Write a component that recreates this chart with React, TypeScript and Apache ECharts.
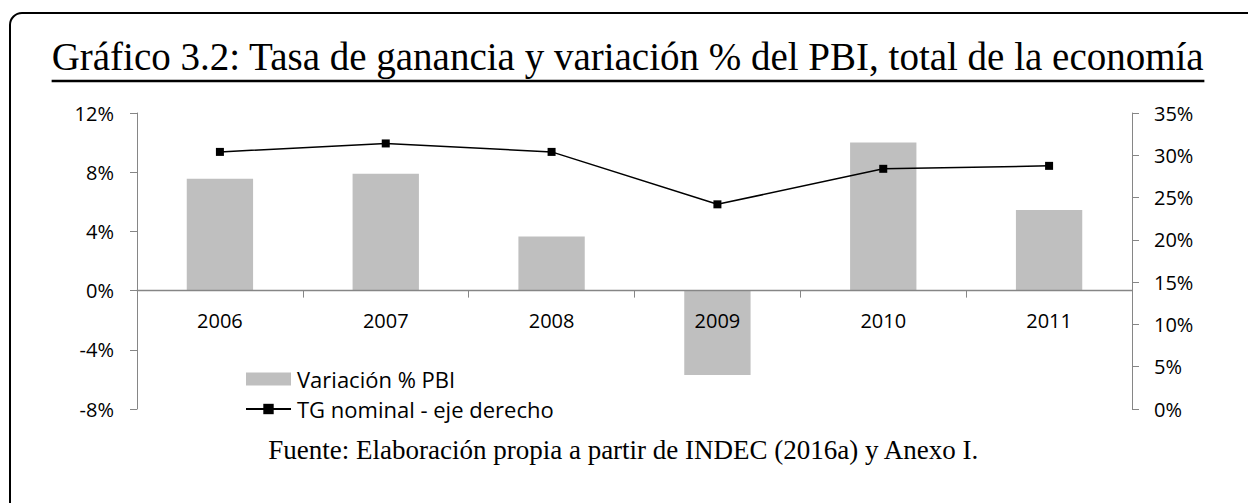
import React, { useEffect, useRef } from "react";
import * as echarts from "echarts";

const years = ["2006", "2007", "2008", "2009", "2010", "2011"];
const pbiVariation = [7.55, 7.9, 3.65, -5.7, 10.0, 5.45];
const tgNominal = [30.4, 31.4, 30.4, 24.2, 28.4, 28.75];
const leftTicks = { min: -8, max: 12, interval: 4 };
const rightTicks = { min: 0, max: 35, interval: 5 };
const titleText = "Gráfico 3.2: Tasa de ganancia y variación % del PBI, total de la economía";
const sourceText = "Fuente: Elaboración propia a partir de INDEC (2016a) y Anexo I.";
const seriesNames = ["Variación % PBI", "TG nominal - eje derecho"];

const SANS = "'Open Sans', 'Noto Sans', sans-serif";
const SERIF = "'Liberation Serif', 'DejaVu Serif', serif";
const AXIS_COLOR = "#868686";
const TITLE_SIZE = 39;
const TITLE_CENTER = 628;
const GRID = { left: 137, right: 116, top: 113, bottom: 94 };
const PAGE_H = 503;

function measure(text: string, font: string): number {
  const c = document.createElement("canvas").getContext("2d")!;
  c.font = font;
  return c.measureText(text).width;
}

export default function App() {
  const ref = useRef<HTMLDivElement>(null);
  useEffect(() => {
    document.body.style.margin = "0";
    const chart = echarts.init(ref.current!, null, { renderer: "svg" });
    const titleW = measure(titleText, `${TITLE_SIZE}px 'Liberation Serif'`);
    const titleLeft = TITLE_CENTER - titleW / 2;
    // place the category axis on the zero line of the left value axis
    const gridH = PAGE_H - GRID.top - GRID.bottom;
    const zeroOffset = -gridH * (0 - leftTicks.min) / (leftTicks.max - leftTicks.min);
    chart.setOption({
      animation: false,
      backgroundColor: "#ffffff",
      grid: { ...GRID, containLabel: false },
      legend: {
        orient: "vertical",
        left: 240,
        top: 363,
        itemWidth: 45,
        itemHeight: 13,
        itemGap: 8,
        selectedMode: false,
        textStyle: { fontFamily: SANS, fontSize: 22, color: "#000", padding: [0, 0, 0, 1] },
        data: [
          { name: seriesNames[0], icon: "rect" },
          { name: seriesNames[1] },
        ],
      },
      xAxis: {
        type: "category",
        data: years,
        boundaryGap: true,
        position: "bottom",
        offset: zeroOffset,
        z: 4,
        axisLine: { onZero: false, lineStyle: { color: AXIS_COLOR, width: 1.3 } },
        axisTick: { show: true, length: 7, lineStyle: { color: AXIS_COLOR } },
        axisLabel: { margin: 20, color: "#000", fontFamily: SANS, fontSize: 20 },
        splitLine: { show: false },
      },
      yAxis: [
        {
          type: "value",
          min: leftTicks.min,
          max: leftTicks.max,
          interval: leftTicks.interval,
          axisLine: { show: true, onZero: false, lineStyle: { color: AXIS_COLOR, width: 1 } },
          axisTick: { show: true, length: 7, lineStyle: { color: AXIS_COLOR } },
          axisLabel: {
            margin: 23,
            color: "#000",
            fontFamily: SANS,
            fontSize: 20,
            formatter: (v: number) => `${v}%`,
          },
          splitLine: { show: false },
        },
        {
          type: "value",
          position: "right",
          min: rightTicks.min,
          max: rightTicks.max,
          interval: rightTicks.interval,
          axisLine: { show: true, onZero: false, lineStyle: { color: AXIS_COLOR, width: 1 } },
          axisTick: { show: true, length: 7, lineStyle: { color: AXIS_COLOR } },
          axisLabel: {
            margin: 22,
            color: "#000",
            fontFamily: SANS,
            fontSize: 20,
            formatter: (v: number) => `${v}%`,
          },
          splitLine: { show: false },
        },
      ],
      series: [
        {
          name: seriesNames[0],
          type: "bar",
          yAxisIndex: 0,
          data: pbiVariation,
          barWidth: "40%",
          z: 2,
          itemStyle: { color: "#bfbfbf" },
        },
        {
          name: seriesNames[1],
          type: "line",
          yAxisIndex: 1,
          data: tgNominal,
          symbol: "rect",
          symbolSize: 8,
          z: 5,
          lineStyle: { color: "#000", width: 1.5 },
          itemStyle: { color: "#000" },
        },
      ],
      graphic: [
        {
          type: "rect",
          shape: { x: 10, y: 13, width: 1300, height: 560, r: 12 },
          style: { fill: "none", stroke: "#000", lineWidth: 2 },
          silent: true,
        },
        {
          type: "text",
          left: titleLeft,
          top: 37,
          style: {
            text: titleText,
            fontFamily: SERIF,
            fontSize: TITLE_SIZE,
            fill: "#000",
          },
        },
        {
          type: "line",
          shape: { x1: titleLeft, y1: 81, x2: titleLeft + titleW, y2: 81 },
          style: { stroke: "#000", lineWidth: 2.5 },
        },
        {
          type: "text",
          left: "center",
          top: 436,
          style: {
            text: sourceText,
            fontFamily: SERIF,
            fontSize: 27,
            fill: "#000",
          },
        },
      ],
    });
    return () => chart.dispose();
  }, []);
  return <div ref={ref} style={{ width: 1248, height: 503 }} />;
}
